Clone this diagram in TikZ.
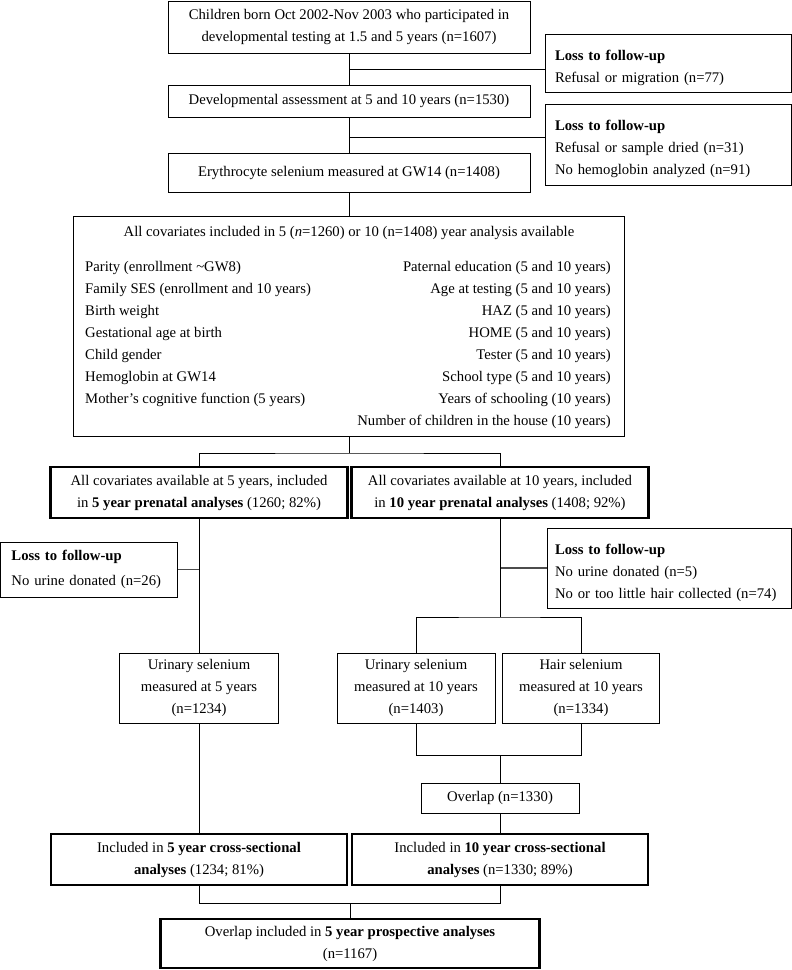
\documentclass[tikz,border=0pt]{standalone}
\usepackage{fontspec}
\setmainfont{Liberation Serif}
\usepackage{tikz}

\begin{document}
\begin{tikzpicture}[x=1pt,y=-1pt,font=\fontsize{14.7}{22}\selectfont]
	\tikzstyle{bx}=[draw, line width=0.8pt, inner sep=0pt, align=center]
	\tikzstyle{bxt}=[bx, line width=2.5pt]
	\tikzstyle{lbox}=[draw, line width=0.8pt, inner xsep=10pt, inner ysep=0pt, align=left]
	\tikzstyle{lpad}=[execute at begin node={\rule{0pt}{20pt}}]
	\tikzstyle{link}=[line width=0.8pt]
	\tikzstyle{linkl}=[line width=1.5pt, black!70]

	\useasboundingbox (0,0) rectangle (792,970);

	% top part
	\node[bx, minimum width=362, minimum height=52] (top) at (349,27) {Children born Oct 2002-Nov 2003 who participated in\\developmental testing at 1.5 and 5 years (n=1607)};
	\node[lbox, lpad, text width=226, minimum height=58] (loss1) at (668,63) {\textbf{Loss to follow-up}\\Refusal or migration (n=77)};
	\node[bx, minimum width=362, minimum height=32] (dev) at (349,101) {Developmental assessment at 5 and 10 years (n=1530)};
	\node[lbox, lpad, text width=226, minimum height=81] (loss2) at (668,144.5) {\textbf{Loss to follow-up}\\Refusal or sample dried (n=31)\\No hemoglobin analyzed (n=91)};
	\node[bx, minimum width=362, minimum height=39] (ery) at (349,172.5) {Erythrocyte selenium measured at GW14 (n=1408)};

	% covariates
	\node[bx, minimum width=551, minimum height=220] (cov) at (349,326) {};
	\node (covtitle) at (349,233) {All covariates included in 5 (\textit{n}=1260) or 10 (n=1408) year analysis available};
	\node[inner sep=0pt, align=left, anchor=north west] (covleft) at (85,261) {Parity (enrollment \textasciitilde GW8)\\Family SES (enrollment and 10 years)\\Birth weight\\Gestational age at birth\\Child gender\\Hemoglobin at GW14\\Mother’s cognitive function (5 years)};
	\node[inner sep=0pt, align=right, anchor=north east] (covright) at (611,261) {Paternal education (5 and 10 years)\\Age at testing (5 and 10 years)\\HAZ (5 and 10 years)\\HOME (5 and 10 years)\\Tester (5 and 10 years)\\School type (5 and 10 years)\\Years of schooling (10 years)\\Number of children in the house (10 years)};

	% prenatal
	\node[bxt, minimum width=297, minimum height=51] (pre5) at (199,492.5) {All covariates available at 5 years, included\\in \textbf{5 year prenatal analyses} (1260; 82\%)};
	\node[bxt, minimum width=297, minimum height=51] (pre10) at (500,492.5) {All covariates available at 10 years, included\\in \textbf{10 year prenatal analyses} (1408; 92\%)};
	\node[lbox, inner xsep=11pt, text width=155, minimum height=55] (lossL) at (89,569.5) {\textbf{Loss to follow-up}\\[3pt]No urine donated (n=26)};
	\node[lbox, lpad, inner xsep=8pt, text width=228, minimum height=80] (lossR) at (669,568) {\textbf{Loss to follow-up}\\No urine donated (n=5)\\No or too little hair collected (n=74)};

	% selenium
	\node[bx, minimum width=159, minimum height=70] (uri5) at (199,688) {Urinary selenium\\measured at 5 years\\(n=1234)};
	\node[bx, minimum width=158, minimum height=70] (uri10) at (416,688) {Urinary selenium\\measured at 10 years\\(n=1403)};
	\node[bx, minimum width=157, minimum height=70] (hair) at (581,688) {Hair selenium\\measured at 10 years\\(n=1334)};
	\node[bx, minimum width=158, minimum height=30] (ovl) at (500,798) {Overlap (n=1330)};

	% analyses
	\node[bxt, minimum width=296, minimum height=51] (cs5) at (199,859.5) {Included in \textbf{5 year cross-sectional}\\\textbf{analyses} (1234; 81\%)};
	\node[bxt, minimum width=296, minimum height=51] (cs10) at (500,859.5) {Included in \textbf{10 year cross-sectional}\\\textbf{analyses} (n=1330; 89\%)};
	\node[bxt, minimum width=379, minimum height=49] (fin) at (350,943.5) {Overlap included in \textbf{5 year prospective analyses}\\(n=1167)};

	\coordinate (j1) at (349,69);
	\coordinate (j2) at (349,137);
	\coordinate (jc) at (349,453);
	\coordinate (jr) at (500,617);
	\coordinate (jm) at (500,755);
	\coordinate (jb) at (350,903);

	\foreach \from/\to in {top/dev,dev/ery,ery/cov,pre5/uri5,uri5/cs5,ovl/cs10}
	\draw[link] (\from.south) -- (\to.north);

	\draw[link] (j1) -- (j1 -| loss1.west);
	\draw[link] (j2) -- (j2 -| loss2.west);
	\draw[link] (cov.south) -- (jc);
	\draw[link] (pre5.north) |- (jc) -| (pre10.north);
	\draw[linkl] (lossL.east) -- (lossL.east -| pre5.south);
	\draw[linkl] (pre10.south |- lossR.west) -- (lossR.west);
	\draw[link] (pre10.south) -- (jr);
	\draw[link] (uri10.north) |- (jr) -| (hair.north);
	\draw[link] (uri10.south) |- (jm) -| (hair.south);
	\draw[link] (jm) -- (ovl.north);
	\draw[link] (cs5.south) |- (jb) -| (cs10.south);
	\draw[link] (jb) -- (fin.north);
\end{tikzpicture}
\end{document}
